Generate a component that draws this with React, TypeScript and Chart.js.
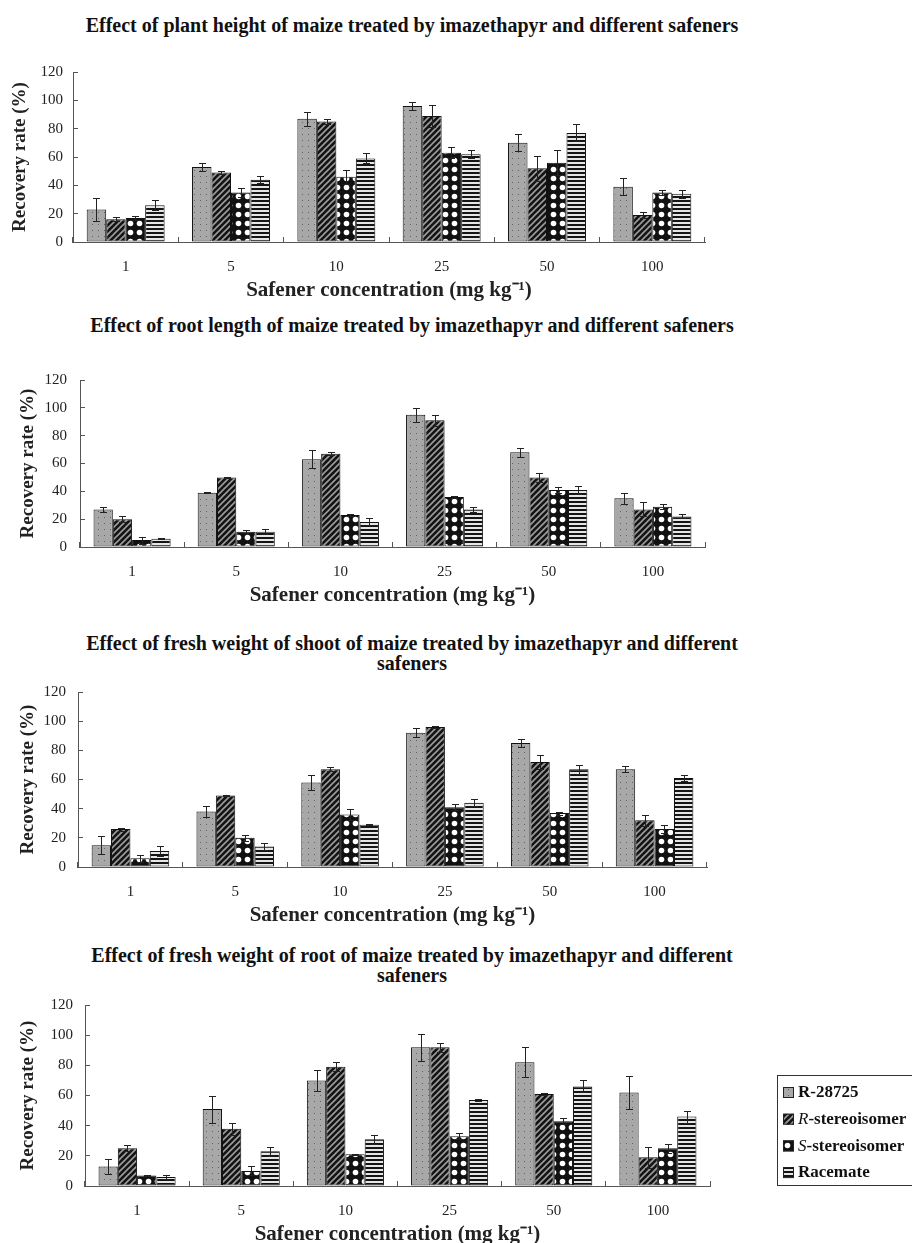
import React, { useEffect, useRef } from 'react';
import { Chart, registerables } from 'chart.js';

Chart.register(...registerables);

const FONT = "'Liberation Serif', 'Times New Roman', serif";

// Categories and series
const concentrations = ['1', '5', '10', '25', '50', '100'];
const seriesNames = ['R-28725', 'R-stereoisomer', 'S-stereoisomer', 'Racemate'];
const xAxisTitle = 'Safener concentration (mg kg\u207B\u00B9)';
const yAxisTitle = 'Recovery rate (%)';
const yMin = 0;
const yMax = 120;
const yStep = 20;

// Panel 1: plant height
const heightR28725 = [23, 53, 87, 96, 70, 39];
const heightRStereo = [16, 49, 85, 89, 52, 19];
const heightSStereo = [17, 35, 46, 63, 56, 35];
const heightRacemate = [26, 44, 59, 62, 77, 34];
const heightR28725Err = [8, 3, 5, 3, 6, 6];
const heightRStereoErr = [1.5, 1, 1.5, 8, 9, 2];
const heightSStereoErr = [1.5, 3, 5, 4, 9, 2];
const heightRacemateErr = [3.5, 2.5, 3.5, 3, 6, 3];

// Panel 2: root length
const rootLenR28725 = [27, 39, 63, 95, 68, 35];
const rootLenRStereo = [20, 50, 67, 91, 50, 27];
const rootLenSStereo = [5, 11, 23, 36, 41, 29];
const rootLenRacemate = [6, 11, 18, 27, 41, 22];
const rootLenR28725Err = [2, 0.5, 6.5, 5, 3, 4];
const rootLenRStereoErr = [2, 0.5, 1, 4, 3.5, 5];
const rootLenSStereoErr = [2.5, 1, 0.5, 1, 2, 2];
const rootLenRacemateErr = [0.5, 2, 2.5, 2, 3, 1.5];

// Panel 3: fresh weight of shoot
const shootR28725 = [15, 38, 58, 92, 85, 67];
const shootRStereo = [26, 49, 67, 96, 72, 32];
const shootSStereo = [6, 20, 36, 41, 37, 26];
const shootRacemate = [11, 14, 29, 44, 67, 61];
const shootR28725Err = [6, 4, 5, 3, 3, 2];
const shootRStereoErr = [1, 0.5, 1.5, 0.5, 4.5, 4];
const shootSStereoErr = [2.5, 2, 3.5, 2, 1, 3];
const shootRacemateErr = [3.5, 2.5, 0.5, 2.5, 3, 2];

// Panel 4: fresh weight of root
const rootWtR28725 = [13, 51, 70, 92, 82, 62];
const rootWtRStereo = [25, 38, 79, 92, 61, 19];
const rootWtSStereo = [7, 10, 21, 33, 43, 25];
const rootWtRacemate = [6, 23, 31, 57, 66, 46];
const rootWtR28725Err = [5, 9, 7, 9, 10, 11];
const rootWtRStereoErr = [2, 4, 3, 3, 0.5, 7];
const rootWtSStereoErr = [0.5, 3, 0.5, 2, 2, 3];
const rootWtRacemateErr = [1.5, 3, 3, 0.5, 4, 4];

const title1 = ['Effect of plant height of maize treated by imazethapyr and different safeners'];
const title2 = ['Effect of root length of maize treated by imazethapyr and different safeners'];
const title3 = ['Effect of fresh weight of shoot of maize treated by imazethapyr and different', 'safeners'];
const title4 = ['Effect of fresh weight of root of maize treated by imazethapyr and different', 'safeners'];

function makePattern(kind: number): CanvasPattern | string {
  const c = document.createElement('canvas');
  if (kind === 0) {
    c.width = 6; c.height = 6;
    const g = c.getContext('2d')!;
    g.fillStyle = '#a8a8a8'; g.fillRect(0, 0, 6, 6);
    g.fillStyle = '#626262'; g.fillRect(2, 2, 1, 1);
    return g.createPattern(c, 'repeat') || '#a8a8a8';
  }
  if (kind === 1) {
    c.width = 6; c.height = 6;
    const g = c.getContext('2d')!;
    g.fillStyle = '#141414'; g.fillRect(0, 0, 6, 6);
    g.strokeStyle = '#9c9c9c'; g.lineWidth = 1.6;
    g.beginPath();
    g.moveTo(0, 6); g.lineTo(6, 0);
    g.moveTo(-1, 1); g.lineTo(1, -1);
    g.moveTo(5, 7); g.lineTo(7, 5);
    g.stroke();
    return g.createPattern(c, 'repeat') || '#141414';
  }
  if (kind === 2) {
    c.width = 9; c.height = 9;
    const g = c.getContext('2d')!;
    g.fillStyle = '#111'; g.fillRect(0, 0, 9, 9);
    g.fillStyle = '#ffffff';
    g.beginPath(); g.arc(4.5, 4.5, 2.8, 0, Math.PI * 2); g.fill();
    return g.createPattern(c, 'repeat') || '#111';
  }
  c.width = 4; c.height = 4;
  const g = c.getContext('2d')!;
  g.fillStyle = '#e6e6e6'; g.fillRect(0, 0, 4, 4);
  g.fillStyle = '#151515'; g.fillRect(0, 0, 4, 2);
  return g.createPattern(c, 'repeat') || '#e6e6e6';
}

const errorBarPlugin = {
  id: 'errorBars',
  afterDatasetsDraw(chart: any, _args: any, opts: any) {
    const errs: number[][] = opts && opts.errors;
    if (!errs) return;
    const { ctx } = chart;
    const yScale = chart.scales.y;
    ctx.save();
    ctx.strokeStyle = '#222';
    ctx.lineWidth = 1;
    chart.data.datasets.forEach((ds: any, di: number) => {
      const meta = chart.getDatasetMeta(di);
      meta.data.forEach((bar: any, i: number) => {
        const v = ds.data[i];
        const e = errs[di][i];
        const x = Math.round(bar.x) + 0.5;
        const yTop = Math.round(yScale.getPixelForValue(v + e)) + 0.5;
        const yBot = Math.round(yScale.getPixelForValue(Math.max(0, v - e))) + 0.5;
        ctx.beginPath();
        ctx.moveTo(x, yTop); ctx.lineTo(x, yBot);
        ctx.moveTo(x - 3.5, yTop); ctx.lineTo(x + 3.5, yTop);
        ctx.moveTo(x - 3.5, yBot); ctx.lineTo(x + 3.5, yBot);
        ctx.stroke();
      });
    });
    ctx.restore();
  },
};

const sideLegendPlugin = {
  id: 'sideLegend',
  afterDraw(chart: any, _args: any, opts: any) {
    if (!opts || !opts.show) return;
    const { ctx } = chart;
    const x0 = opts.x, y0 = opts.y;
    ctx.save();
    ctx.strokeStyle = '#333';
    ctx.lineWidth = 1;
    ctx.strokeRect(x0 + 0.5, y0 + 0.5, opts.w, opts.h);
    chart.data.datasets.forEach((ds: any, i: number) => {
      const cy = y0 + opts.firstRow + i * opts.rowGap;
      ctx.fillStyle = ds.backgroundColor;
      ctx.fillRect(x0 + 6, cy - 5, 11, 11);
      ctx.strokeStyle = '#222';
      ctx.strokeRect(x0 + 6.5, cy - 4.5, 10, 10);
      ctx.fillStyle = '#111';
      ctx.textBaseline = 'middle';
      ctx.textAlign = 'left';
      let tx = x0 + 21;
      const label: string = ds.label;
      const m = /^([RS])(-stereoisomer)$/.exec(label);
      if (m) {
        ctx.font = `italic 17px ${FONT}`;
        ctx.fillText(m[1], tx, cy + 1);
        tx += ctx.measureText(m[1]).width;
        ctx.font = `bold 17px ${FONT}`;
        ctx.fillText(m[2], tx, cy + 1);
      } else {
        ctx.font = `bold 17px ${FONT}`;
        ctx.fillText(label, tx, cy + 1);
      }
    });
    ctx.restore();
  },
};

type PanelProps = {
  top: number;
  height: number;
  left: number;
  right: number;
  yTitleCenter: number;
  tickGap: number;
  series: number[][];
  errors: number[][];
  legend?: boolean;
};

function Panel({ top, height, left, right, yTitleCenter, tickGap, series, errors, legend }: PanelProps) {
  const ref = useRef<HTMLCanvasElement | null>(null);
  useEffect(() => {
    if (!ref.current) return;
    const patterns = [0, 1, 2, 3].map((k) => makePattern(k));
    const chart = new Chart(ref.current, {
      type: 'bar',
      data: {
        labels: concentrations,
        datasets: series.map((d, i) => ({
          label: seriesNames[i],
          data: d,
          backgroundColor: patterns[i] as any,
          borderColor: '#111',
          borderWidth: 1,
          borderSkipped: false,
          categoryPercentage: 0.74,
          barPercentage: 1,
        })),
      },
      options: {
        responsive: false,
        animation: false,
        layout: { padding: { top: 16, right: 912 - right, bottom: 0, left: 0 } },
        plugins: {
          legend: { display: false },
          tooltip: { enabled: false },
          title: { display: false },
          errorBars: { errors },
          sideLegend: legend
            ? { show: true, x: 777, y: 96, w: 140, h: 110, firstRow: 17, rowGap: 26.7 }
            : { show: false },
        } as any,
        scales: {
          x: {
            grid: { display: true, drawOnChartArea: false, tickLength: -5, color: '#555', offset: true },
            border: { display: true, color: '#555', width: 1 },
            ticks: { padding: 21, color: '#222', font: { size: 15, family: FONT } },
            title: {
              display: true,
              text: xAxisTitle,
              color: '#222',
              font: { size: 21, weight: 'bold', family: FONT },
              padding: { top: 0, bottom: 0.4 },
            },
            afterFit: (s: any) => { s.height = 62; },
          },
          y: {
            min: yMin,
            max: yMax,
            ticks: { stepSize: yStep, padding: tickGap + 5, color: '#222', font: { size: 15, family: FONT } },
            grid: { display: true, drawOnChartArea: false, tickLength: -5, color: '#555' },
            border: { display: true, color: '#555', width: 1 },
            title: {
              display: true,
              text: yAxisTitle,
              color: '#222',
              font: { size: 19, weight: 'bold', family: FONT },
              padding: { top: yTitleCenter - 11.4, bottom: 0 },
            },
            afterFit: (s: any) => { s.width = left; },
          },
        } as any,
      },
      plugins: [errorBarPlugin as any, sideLegendPlugin as any],
    });
    return () => chart.destroy();
  }, []);
  return (
    <canvas
      ref={ref}
      width={912}
      height={height}
      style={{ position: 'absolute', left: 0, top, width: 912, height }}
    />
  );
}

function Title({ top, lines }: { top: number; lines: string[] }) {
  return (
    <div
      style={{
        position: 'absolute',
        left: 0,
        top,
        width: 824,
        textAlign: 'center',
        font: `bold 20px ${FONT}`,
        lineHeight: '20px',
        color: '#111',
        whiteSpace: 'nowrap',
      }}
    >
      {lines.map((l, i) => (
        <div key={i}>{l}</div>
      ))}
    </div>
  );
}

export default function App() {
  return (
    <div
      style={{
        position: 'absolute',
        left: 0,
        top: 0,
        width: 912,
        height: 1243,
        overflow: 'hidden',
        background: '#fff',
      }}
    >
      <Title top={15} lines={title1} />
      <Panel
        top={48}
        height={256}
        left={73}
        right={705}
        yTitleCenter={20}
        tickGap={10}
        series={[heightR28725, heightRStereo, heightSStereo, heightRacemate]}
        errors={[heightR28725Err, heightRStereoErr, heightSStereoErr, heightRacemateErr]}
      />
      <Title top={315} lines={title2} />
      <Panel
        top={353}
        height={256}
        left={80}
        right={705}
        yTitleCenter={28}
        tickGap={13}
        series={[rootLenR28725, rootLenRStereo, rootLenSStereo, rootLenRacemate]}
        errors={[rootLenR28725Err, rootLenRStereoErr, rootLenSStereoErr, rootLenRacemateErr]}
      />
      <Title top={633} lines={title3} />
      <Panel
        top={666}
        height={263}
        left={78}
        right={707}
        yTitleCenter={28}
        tickGap={12}
        series={[shootR28725, shootRStereo, shootSStereo, shootRacemate]}
        errors={[shootR28725Err, shootRStereoErr, shootSStereoErr, shootRacemateErr]}
      />
      <Title top={945} lines={title4} />
      <Panel
        top={979}
        height={269}
        left={85}
        right={710}
        yTitleCenter={28}
        tickGap={12}
        series={[rootWtR28725, rootWtRStereo, rootWtSStereo, rootWtRacemate]}
        errors={[rootWtR28725Err, rootWtRStereoErr, rootWtSStereoErr, rootWtRacemateErr]}
        legend
      />
    </div>
  );
}
